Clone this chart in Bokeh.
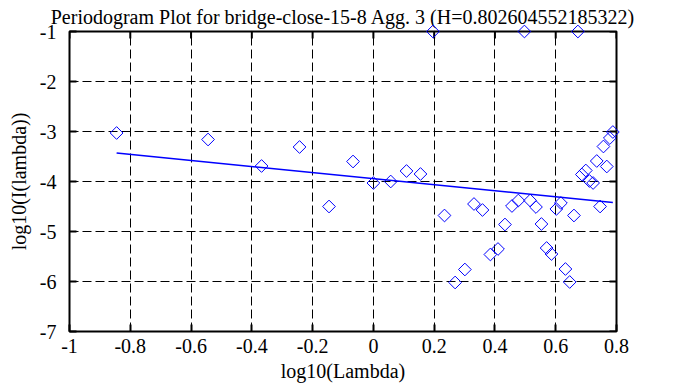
import numpy as np
from bokeh.plotting import figure
from bokeh.models import LinearAxis, FixedTicker, Range1d, Grid
from bokeh.embed import file_html
from bokeh.resources import INLINE

# log10(lambda) values
x_vals = [-0.845, -0.544, -0.368, -0.243, -0.146, -0.067, 0.0, 0.057, 0.109, 0.155,
          0.196, 0.234, 0.269, 0.301, 0.331, 0.359, 0.385, 0.410, 0.433, 0.456,
          0.477, 0.497, 0.516, 0.535, 0.553, 0.570, 0.586, 0.602, 0.617, 0.632,
          0.646, 0.660, 0.673, 0.686, 0.699, 0.711, 0.723, 0.735, 0.746, 0.757,
          0.768, 0.778, 0.788]
# log10(I(lambda)) values
y_vals = [-3.03, -3.16, -3.69, -3.31, -4.50, -3.60, -4.03, -4.00, -3.79, -3.85,
          -1.00, -4.68, -6.02, -5.76, -4.45, -4.57, -5.46, -5.35, -4.86, -4.49,
          -4.38, -1.00, -4.38, -4.51, -4.85, -5.33, -5.45, -4.55, -4.43, -5.75,
          -6.01, -4.68, -1.00, -3.86, -3.78, -3.99, -4.03, -3.59, -4.50, -3.30,
          -3.70, -3.13, -3.01]
# fitted line end points
fit_x = [-0.845, 0.788]
fit_y = [-3.43, -4.42]

x_ticks = [-1, -0.8, -0.6, -0.4, -0.2, 0, 0.2, 0.4, 0.6, 0.8]
x_tick_labels = ["-1", "-0.8", "-0.6", "-0.4", "-0.2", "0", "0.2", "0.4", "0.6", "0.8"]
y_ticks = [-7, -6, -5, -4, -3, -2, -1]
y_tick_labels = ["-7", "-6", "-5", "-4", "-3", "-2", "-1"]

title_text = "Periodogram Plot for bridge-close-15-8 Agg. 3 (H=0.802604552185322)"
x_label = "log10(Lambda)"
y_label = "log10(I(lambda))"

FONT = "Liberation Serif"
X0, X1 = x_ticks[0], x_ticks[-1]
Y0, Y1 = y_ticks[0], y_ticks[-1]

FW, FH = 547, 300  # frame size in px
p = figure(width=685, height=387, output_backend="svg", toolbar_location=None,
           x_range=Range1d(X0, X1), y_range=Range1d(Y0, Y1),
           x_axis_type=None, y_axis_type=None,
           min_border_left=69, min_border_right=69, min_border_top=31, min_border_bottom=56)

p.title.text = title_text
p.title.text_font = FONT
p.title.text_font_size = "20px"
p.title.text_font_style = "normal"
p.title.text_color = "black"
p.title.align = "center"
p.title.standoff = 7
p.title.offset = 0

p.outline_line_color = "black"
p.outline_line_width = 2
p.background_fill_color = "white"
p.border_fill_color = "white"

def make_axis(ticks, labels, axis_label):
    ax = LinearAxis(ticker=FixedTicker(ticks=ticks))
    ax.major_label_overrides = {t: l for t, l in zip(ticks, labels)}
    ax.axis_line_color = None
    ax.major_tick_in = 7
    ax.major_tick_out = 0
    ax.major_tick_line_width = 2
    ax.major_tick_line_color = "black"
    ax.minor_tick_line_color = None
    ax.major_label_text_font = FONT
    ax.major_label_text_color = "black"
    ax.major_label_text_font_size = "20px"
    ax.axis_label = axis_label
    ax.axis_label_text_font = FONT
    ax.axis_label_text_font_size = "20px"
    ax.axis_label_text_font_style = "normal"
    ax.axis_label_text_color = "black"
    return ax

xb = make_axis(x_ticks, x_tick_labels, x_label)
xb.major_label_standoff = 7
xb.axis_label_standoff = 4
p.add_layout(xb, "below")
yl = make_axis(y_ticks, y_tick_labels, y_label)
yl.major_label_standoff = 13
yl.axis_label_standoff = 7
p.add_layout(yl, "left")

p.xgrid.grid_line_color = None
p.ygrid.grid_line_color = None
p.add_layout(Grid(dimension=0, ticker=FixedTicker(ticks=x_ticks),
                  grid_line_color="black", grid_line_width=1, grid_line_dash="9 4"))
p.add_layout(Grid(dimension=1, ticker=FixedTicker(ticks=y_ticks),
                  grid_line_color="black", grid_line_width=1, grid_line_dash="9 4"))

# mirrored inward ticks on top and right edges (7 px long)
tick_dy = 7 * (Y1 - Y0) / FH
tick_dx = 7 * (X1 - X0) / FW
p.segment(x0=x_ticks, y0=[Y1] * len(x_ticks), x1=x_ticks, y1=[Y1 - tick_dy] * len(x_ticks),
          line_color="black", line_width=2)
p.segment(x0=[X1] * len(y_ticks), y0=y_ticks, x1=[X1 - tick_dx] * len(y_ticks), y1=y_ticks,
          line_color="black", line_width=2)

p.line(fit_x, fit_y, line_color="#0000ff", line_width=1.5)
p.scatter(x_vals, y_vals, marker="square", angle=np.pi / 4, size=9,
          fill_color=None, line_color="#0000ff", line_width=1, level="overlay")

open("out.html", "w").write(file_html(p, INLINE))
